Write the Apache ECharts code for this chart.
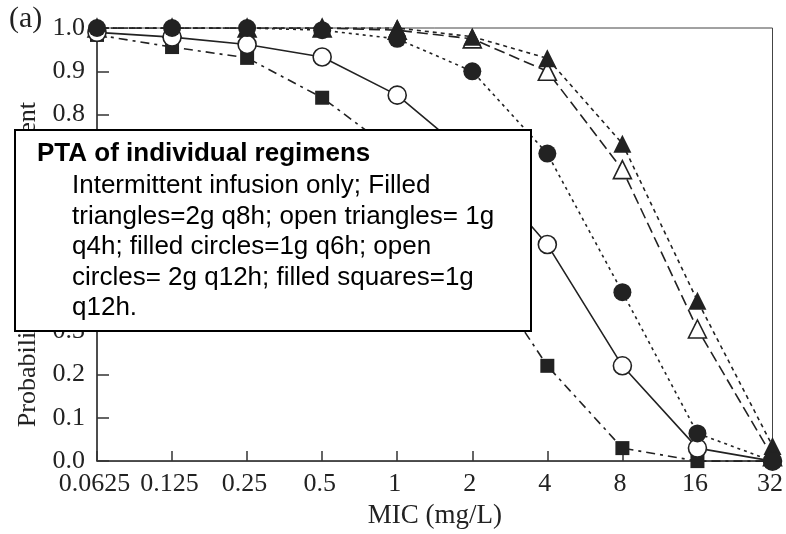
<!DOCTYPE html>
<html>
<head>
<meta charset="utf-8">
<title>PTA of individual regimens</title>
<script src="https://cdn.jsdelivr.net/npm/echarts@6/dist/echarts.min.js"></script>
<style>
  html, body { margin: 0; padding: 0; background: #fff; }
  #chart { width: 786px; height: 534px; }
</style>
</head>
<body>
<div id="chart"></div>
<script>
// MIC categories (log2 steps)
const micLabels = ['0.0625', '0.125', '0.25', '0.5', '1', '2', '4', '8', '16', '32'];

// probability of target attainment
const filledTriangles = [1.0, 1.0, 1.0, 1.0, 1.0, 0.98, 0.93, 0.733, 0.37, 0.035];   // 2g q8h
const openTriangles   = [1.0, 1.0, 1.0, 1.0, 0.995, 0.975, 0.9, 0.673, 0.305, 0.01]; // 1g q4h
const filledCircles   = [1.0, 1.0, 1.0, 0.995, 0.975, 0.9, 0.71, 0.39, 0.064, 0.0];  // 1g q6h
const openCircles     = [0.99, 0.979, 0.962, 0.933, 0.845, 0.70, 0.50, 0.22, 0.03, 0.0]; // 2g q12h
const filledSquares   = [0.984, 0.956, 0.931, 0.839, 0.71, 0.48, 0.22, 0.03, 0.0, 0.0]; // 1g q12h

// text of the note box
const noteTitle = 'PTA of individual regimens';
const noteLines = [
  'Intermittent infusion only; Filled',
  'triangles=2g q8h; open triangles= 1g',
  'q4h; filled circles=1g q6h; open',
  'circles= 2g q12h; filled squares=1g',
  'q12h.'
];

const ink = '#222';
const serif = '"Liberation Serif", "DejaVu Serif", serif';
const sans = '"Liberation Sans", Arial, sans-serif';

function makeSeries(name, data, symbol, size, filled, dash) {
  return {
    name: name,
    type: 'line',
    data: data,
    symbol: symbol,
    symbolSize: size,
    showAllSymbol: true,
    lineStyle: { color: ink, width: 1.6, type: dash },
    itemStyle: {
      color: filled ? ink : '#fff',
      borderColor: ink,
      borderWidth: filled ? 0 : 1.6
    },
    emphasis: { disabled: true },
    animation: false
  };
}

const series = [
  makeSeries('1g q12h', filledSquares, 'rect', 14, true, [9, 5, 3, 5]),
  makeSeries('1g q4h', openTriangles, 'triangle', 18, false, [11, 5]),
  makeSeries('2g q8h', filledTriangles, 'triangle', 18, true, [4, 4]),
  makeSeries('2g q12h', openCircles, 'circle', 18, false, 'solid'),
  makeSeries('1g q6h', filledCircles, 'circle', 18, true, [3, 4])
];

// note box drawn over the plot
const noteChildren = [
  {
    type: 'rect',
    z: 100,
    shape: { x: 15, y: 130, width: 516, height: 201 },
    style: { fill: '#fff', stroke: '#000', lineWidth: 2 }
  },
  {
    type: 'text',
    z: 101,
    x: 37, y: 154,
    style: { text: noteTitle, font: 'bold 26px ' + sans, fill: '#000', verticalAlign: 'middle' }
  }
];
noteLines.forEach((line, i) => {
  noteChildren.push({
    type: 'text',
    z: 101,
    x: 72, y: 186 + i * 30.5,
    style: { text: line, font: '26px ' + sans, fill: '#000', verticalAlign: 'middle' }
  });
});

const option = {
  animation: false,
  grid: {
    left: 97, right: 12, top: 28, bottom: 71,
    show: true,
    borderColor: '#444',
    borderWidth: 1
  },
  xAxis: {
    type: 'category',
    data: micLabels,
    boundaryGap: false,
    name: 'MIC (mg/L)',
    nameLocation: 'middle',
    nameGap: 38,
    nameTextStyle: { fontFamily: serif, fontSize: 27, color: ink },
    axisLine: { lineStyle: { color: '#333', width: 1.5 } },
    axisTick: { inside: true, length: 10, interval: 0, lineStyle: { color: '#333', width: 1.5 } },
    axisLabel: {
      fontFamily: serif, fontSize: 26, color: ink, margin: 10,
      interval: 0, hideOverlap: false, padding: [0, 5, 0, 0]
    },
    splitLine: { show: false }
  },
  yAxis: {
    type: 'value',
    min: 0,
    max: 1,
    interval: 0.1,
    name: 'Probability of target attainment',
    nameLocation: 'middle',
    nameGap: 56,
    nameTextStyle: { fontFamily: serif, fontSize: 26, color: ink, padding: [0, 40, 0, 0] },
    axisLine: { show: true, lineStyle: { color: '#333', width: 1.5 } },
    axisTick: { show: true, inside: true, length: 12, lineStyle: { color: '#333', width: 1.5 } },
    axisLabel: {
      fontFamily: serif, fontSize: 26, color: ink, margin: 12,
      formatter: v => v.toFixed(1)
    },
    splitLine: { show: false }
  },
  graphic: [
    {
      type: 'text',
      left: 9, top: 4,
      style: { text: '(a)', font: '30px ' + serif, fill: ink }
    },
    {
      type: 'group',
      z: 100,
      zlevel: 1,
      children: noteChildren
    }
  ],
  series: series
};

let myChart = echarts.init(document.getElementById('chart'));
myChart.setOption(option);
</script>
</body>
</html>
